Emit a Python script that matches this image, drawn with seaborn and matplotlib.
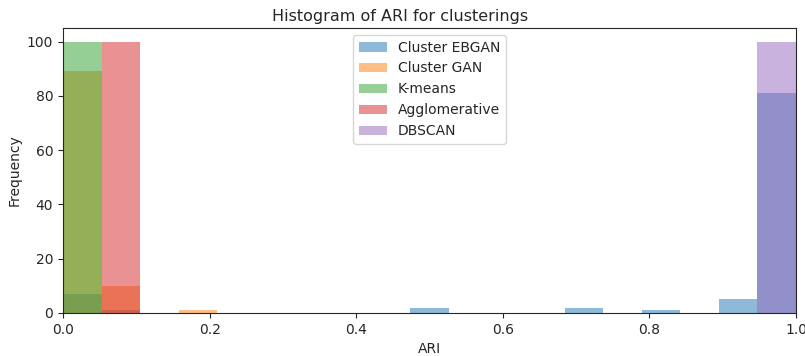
import numpy as np
import pandas as pd
import matplotlib
matplotlib.use("Agg")
import matplotlib.pyplot as plt
import seaborn as sns

# Bin edges: 19 equal bins between 0 and 1
bin_edges = list(np.linspace(0, 1, 20))
series_names = ["Cluster EBGAN", "Cluster GAN", "K-means", "Agglomerative", "DBSCAN"]
# counts per bin index (0..18)
ebgan_counts = {0: 7, 1: 1, 9: 2, 13: 2, 15: 1, 17: 5, 18: 81}
gan_counts = {0: 89, 1: 10, 3: 1}
kmeans_counts = {0: 100}
agglo_counts = {1: 100}
dbscan_counts = {18: 100}

all_counts = [ebgan_counts, gan_counts, kmeans_counts, agglo_counts, dbscan_counts]
colors = sns.color_palette("tab10", 5)

sns.set_style("ticks")
plt.rcParams['font.family'] = ['DejaVu Sans']

fig, ax = plt.subplots(figsize=(8.05, 3.56), dpi=100)
fig.subplots_adjust(left=63/805, right=796/805, top=1-28/356, bottom=1-313/356)

for name, counts, col in zip(series_names, all_counts, colors):
    centers = [(bin_edges[i] + bin_edges[i + 1]) / 2 for i in counts]
    weights = list(counts.values())
    df = pd.DataFrame({"ARI": centers, "w": weights})
    sns.histplot(data=df, x="ARI", weights="w", bins=bin_edges, alpha=0.5,
                 color=col, linewidth=0, label=name, ax=ax)

ax.set_xlim(0, 1)
ax.set_ylim(0, 105)
ax.set_xticks([0, 0.2, 0.4, 0.6, 0.8, 1.0])
ax.set_yticks([0, 20, 40, 60, 80, 100])
ax.set_title("Histogram of ARI for clusterings", fontsize=11.5,
             x=(400 - 63) / (796 - 63), pad=5)
ax.set_xlabel("ARI", fontsize=10)
ax.set_ylabel("Frequency", fontsize=10)
ax.tick_params(labelsize=10)
ax.legend(loc="upper center", fontsize=10)

fig.savefig("out.png", dpi=100)
